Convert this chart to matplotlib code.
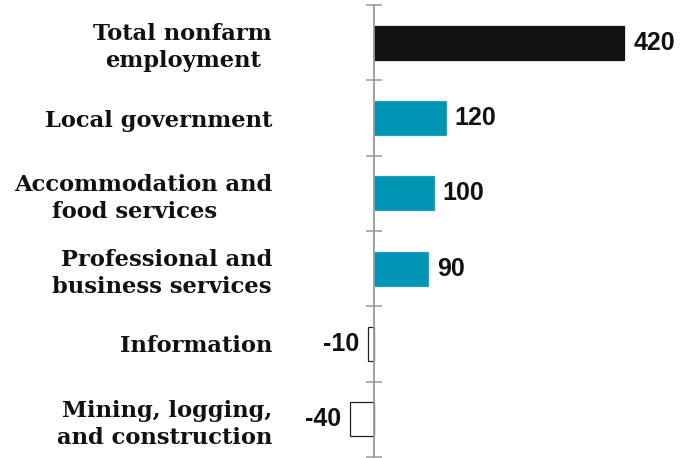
import matplotlib
matplotlib.use("Agg")
import matplotlib.pyplot as plt
from matplotlib.ticker import FixedLocator
from matplotlib import font_manager as fm

categories = [
    "Total nonfarm\nemployment",
    "Local government",
    "Accommodation and\nfood services       ",
    "Professional and\nbusiness services",
    "Information",
    "Mining, logging,\nand construction",
]
values = [420, 120, 100, 90, -10, -40]
labels = ["420", "120", "100", "90", "-10", "-40"]

# locate a regular-width bold sans (Arial-like)
val_font = None
for f in fm.fontManager.ttflist:
    if f.name == "Liberation Sans" and f.weight in (700, "bold") and f.style == "normal" \
            and "Narrow" not in f.fname:
        val_font = fm.FontProperties(fname=f.fname, size=18)
        break
if val_font is None:
    val_font = fm.FontProperties(family="DejaVu Sans", weight="bold", size=16.5)

fig = plt.figure(figsize=(6.87, 4.58), dpi=100)
W, H = 687, 458
ax = fig.add_axes([300 / W, 1 / H, 340 / W, 452 / H])

px_per_unit = 0.596
ax.set_xlim(-74 / px_per_unit, 266 / px_per_unit)
ypos = list(range(len(categories)))
ax.set_ylim(len(categories) - 0.5, -0.5)

facecolors = []
edgecolors = []
for i, v in enumerate(values):
    if i == 0:
        facecolors.append("#111111"); edgecolors.append("#111111")
    elif v >= 0:
        facecolors.append("#0094b5"); edgecolors.append("#22a3c2")
    else:
        facecolors.append("white"); edgecolors.append("#222222")

ax.barh(ypos, values, height=0.45, color=facecolors, edgecolor=edgecolors,
        linewidth=0.9, zorder=3)

for y, v, t in zip(ypos, values, labels):
    off = 9 / px_per_unit
    if v >= 0:
        ax.text(v + off, y, t, ha="left", va="center", fontproperties=val_font,
                color="#111111")
    else:
        ax.text(v - off, y, t, ha="right", va="center", fontproperties=val_font,
                color="#111111")

for s in ["top", "right", "bottom"]:
    ax.spines[s].set_visible(False)
ax.spines["left"].set_position(("data", 0))
ax.spines["left"].set_color("#9a9a9a")
ax.spines["left"].set_linewidth(1.3)
ax.spines["left"].set_zorder(4)

ax.set_xticks([])
ax.set_yticks(ypos)
ax.set_yticklabels(categories, fontsize=16.3, fontweight="bold",
                   family="DejaVu Serif", color="#111111", linespacing=1.3)
ax.tick_params(axis="y", which="major", length=0, pad=102 * 72 / 100)
ax.yaxis.set_minor_locator(FixedLocator([i - 0.5 for i in range(len(categories) + 1)]))
ax.tick_params(axis="y", which="minor", direction="inout", length=11,
               width=1.1, color="#9a9a9a")
for lbl in ax.get_yticklabels():
    lbl.set_multialignment("right")
ax.get_yticklabels()[0].set_multialignment("center")

fig.savefig("out.png", dpi=100)
